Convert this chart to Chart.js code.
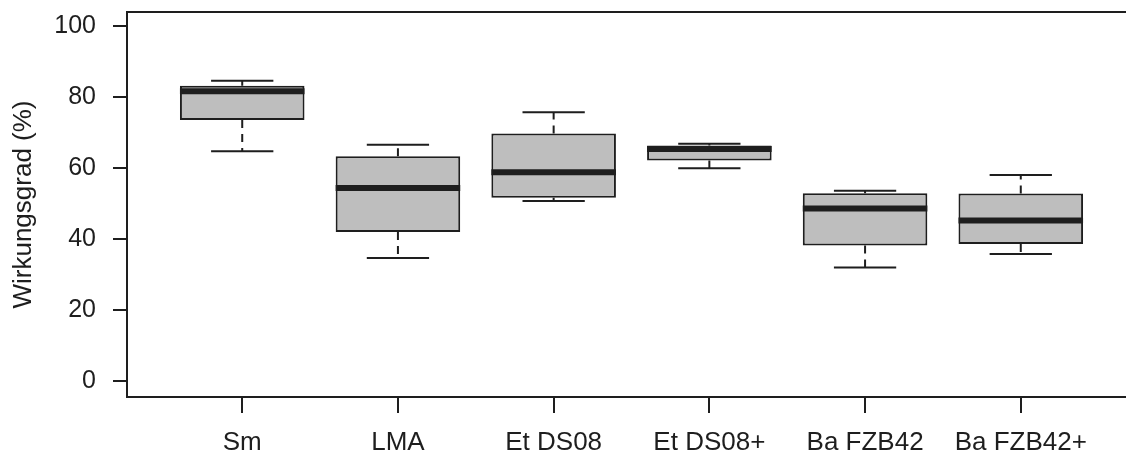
<!DOCTYPE html>
<html>
<head>
  <meta charset="UTF-8" />
  <title>Wirkungsgrad</title>
  <script src="https://cdn.jsdelivr.net/npm/chart.js"></script>
  <style>
    html, body {
      margin: 0; padding: 0;
      background: #fff;
      overflow: hidden;
    }
    .chart-container {
      position: relative;
      width: 1146px;   /* right frame edge falls just outside the window */
      height: 459px;
    }
  </style>
</head>
<body>
  <div class="chart-container">
    <canvas id="boxChart"></canvas>
  </div>
  <script>
    const categories  = ['Sm', 'LMA', 'Et DS08', 'Et DS08+', 'Ba FZB42', 'Ba FZB42+'];
    const whiskerLow  = [64.7, 34.7, 50.7, 59.9, 32.0, 35.8];
    const lowerQuart  = [73.5, 42.0, 51.6, 62.1, 38.2, 38.6];
    const medians     = [81.6, 54.4, 58.8, 65.3, 48.6, 45.2];
    const upperQuart  = [83.1, 63.3, 69.7, 66.3, 52.9, 52.8];
    const whiskerHigh = [84.5, 66.5, 75.7, 66.8, 53.6, 58.0];
    const yTicks      = [0, 20, 40, 60, 80, 100];

    const ink = '#1e1e1e';
    const font = "'Liberation Sans', Arial, sans-serif";

    // whiskers, staples and median bars on top of the floating boxes
    const boxExtras = {
      id: 'boxExtras',
      afterDatasetsDraw(chart) {
        const { ctx, scales: { y } } = chart;
        const bars = chart.getDatasetMeta(0).data;
        ctx.save();
        ctx.strokeStyle = ink;
        bars.forEach((bar, i) => {
          const x = bar.x, half = bar.width / 2;
          const staple = half / 2;
          const yLo = y.getPixelForValue(whiskerLow[i]);
          const yHi = y.getPixelForValue(whiskerHigh[i]);
          const yQ1 = y.getPixelForValue(lowerQuart[i]);
          const yQ3 = y.getPixelForValue(upperQuart[i]);
          const yMed = y.getPixelForValue(medians[i]);

          // dashed whiskers
          ctx.lineWidth = 2;
          ctx.setLineDash([8, 6]);
          ctx.beginPath();
          ctx.moveTo(x, yQ1); ctx.lineTo(x, yLo);
          ctx.moveTo(x, yQ3); ctx.lineTo(x, yHi);
          ctx.stroke();

          // staples
          ctx.setLineDash([]);
          ctx.beginPath();
          ctx.moveTo(x - staple, yLo); ctx.lineTo(x + staple, yLo);
          ctx.moveTo(x - staple, yHi); ctx.lineTo(x + staple, yHi);
          ctx.stroke();

          // median
          ctx.lineWidth = 6;
          ctx.lineCap = 'butt';
          ctx.beginPath();
          ctx.moveTo(x - half, yMed); ctx.lineTo(x + half, yMed);
          ctx.stroke();
        });
        ctx.restore();
      },
      afterDraw(chart) {
        // plot frame
        const { ctx, chartArea: a } = chart;
        ctx.save();
        ctx.strokeStyle = ink;
        ctx.lineWidth = 2;
        ctx.strokeRect(a.left, a.top, a.right - a.left, a.bottom - a.top);
        ctx.restore();
      }
    };

    const ctx = document.getElementById('boxChart').getContext('2d');
    new Chart(ctx, {
      type: 'bar',
      data: {
        datasets: [{
          data: categories.map((c, i) => ({ x: i + 1, y: [lowerQuart[i], upperQuart[i]] })),
          backgroundColor: '#bebebe',
          borderColor: ink,
          borderWidth: 2,
          borderSkipped: false,
          categoryPercentage: 0.8,
          barPercentage: 1.0
        }]
      },
      options: {
        responsive: true,
        maintainAspectRatio: false,
        animation: false,
        layout: { padding: { left: 0, top: 12, right: 10, bottom: 0 } },
        plugins: {
          legend: { display: false },
          tooltip: { enabled: false }
        },
        scales: {
          x: {
            type: 'linear',
            offset: false,
            min: 0.26,
            max: 6.74,
            afterBuildTicks: s => { s.ticks = categories.map((c, i) => ({ value: i + 1 })); },
            afterFit: s => { s.height = 62; s.paddingLeft = 0; s.paddingRight = 0; },
            ticks: {
              callback: v => categories[v - 1],
              color: ink,
              font: { family: font, size: 26 },
              padding: 14,
              maxRotation: 0,
              autoSkip: false
            },
            grid: {
              offset: false,
              drawOnChartArea: false,
              drawTicks: true,
              tickLength: 16,
              color: ink,
              lineWidth: 2
            },
            border: { display: false }
          },
          y: {
            min: -4.39,
            max: 103.85,
            afterBuildTicks: s => { s.ticks = yTicks.map(v => ({ value: v })); },
            afterFit: s => { s.width = 127; s.paddingTop = 0; s.paddingBottom = 0; },
            ticks: {
              color: ink,
              font: { family: font, size: 25 },
              padding: 17
            },
            grid: {
              drawOnChartArea: false,
              drawTicks: true,
              tickLength: 14,
              color: ink,
              lineWidth: 2
            },
            border: { display: false },
            title: {
              display: true,
              text: 'Wirkungsgrad (%)',
              color: ink,
              font: { family: font, size: 26 },
              padding: { top: 8, bottom: 0 }
            }
          }
        }
      },
      plugins: [boxExtras]
    });
  </script>
</body>
</html>
